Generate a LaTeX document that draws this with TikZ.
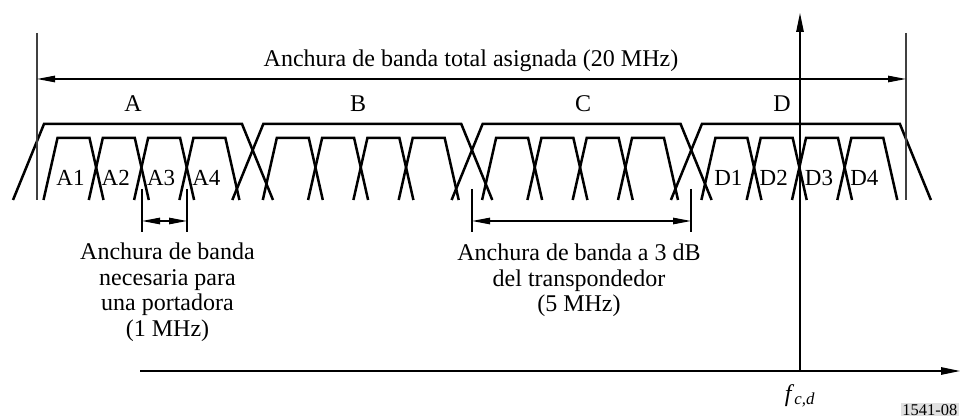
\documentclass[tikz,border=0pt]{standalone}
\usepackage{fontspec}
\setmainfont{Liberation Serif}
\usetikzlibrary{arrows.meta}
\begin{document}
\begin{tikzpicture}[x=1pt,y=-1pt,
  band/.style={line width=2.5pt, line join=miter},
  thinln/.style={line width=1.2pt},
  bound/.style={line width=1.2pt, draw=black!75},
  dimarrow/.style={line width=1.2pt, {Triangle[length=18pt,width=6.5pt]}-{Triangle[length=18pt,width=6.5pt]}},
  axisarrow/.style={line width=1.2pt, -{Triangle[length=19pt,width=7.5pt]}},
  lbl/.style={font=\fontsize{24}{25.7}\selectfont, inner sep=0pt},
  clbl/.style={font=\fontsize{23}{24}\selectfont, inner sep=0pt, anchor=base},
  tag/.style={font=\fontsize{16.5}{16.5}\selectfont, fill=black!12, inner sep=1.2pt, anchor=base west}]
\useasboundingbox (0,0) rectangle (961,419);

% transponder and carrier trapezoids
\foreach \k/\nm/\lx in {0/A/133,1/B/358,2/C/583,3/D/782} {
  \pgfmathsetmacro\t{44+219.3*\k}
  \draw[band] (\t-31,200) -- (\t,124) -- (\t+198,124) -- (\t+229,200);
  \node[lbl, anchor=base] (tp\nm) at (\lx,112) {\nm};
  \foreach \j in {0,...,3} {
    \pgfmathsetmacro\c{\t+13.5+45.3*\j}
    \draw[band] (\c-14,200) -- (\c,138) -- (\c+32,138) -- (\c+46,200);
  }
}

% carrier labels
\foreach \j in {1,...,4} {
  \pgfmathsetmacro\ca{44+13.5+45.3*(\j-1)+13}
  \pgfmathsetmacro\cd{44+219.3*3+13.5+45.3*(\j-1)+13}
  \node[clbl] (A\j) at (\ca,186) {A\j};
  \node[clbl] (D\j) at (\cd,186) {D\j};
}

% total bandwidth
\coordinate (bl) at (37,33);
\coordinate (blb) at (37,200);
\coordinate (br) at (906,33);
\coordinate (brb) at (906,200);
\draw[bound] (bl) -- (blb);
\draw[bound] (br) -- (brb);
\coordinate (tl) at (37,79);
\coordinate (tr) at (906,79);
\draw[dimarrow] (tl) -- (tr);
\node[lbl, anchor=base] (title) at (471,67) {Anchura de banda total asignada (20 MHz)};

% axes
\coordinate (xs) at (140,371);
\coordinate (xe) at (960,371);
\coordinate (org) at (800,371);
\coordinate (ye) at (800,13);
\draw[axisarrow] (xs) -- (xe);
\draw[axisarrow] (org) -- (ye);
\node[lbl, anchor=base] (fcd) at (800,401) {\textit{f}\textsubscript{\textit{c,d}}};

% carrier bandwidth
\coordinate (c1t) at (142,189); \coordinate (c1b) at (142,232);
\coordinate (c2t) at (187,189); \coordinate (c2b) at (187,232);
\draw[thinln] (c1t) -- (c1b);
\draw[thinln] (c2t) -- (c2b);
\coordinate (c1m) at (142,221); \coordinate (c2m) at (187,221);
\draw[dimarrow] (c1m) -- (c2m);
\node[lbl, align=center, anchor=north] (cbw) at (167.5,242.5)
  {Anchura de banda\\necesaria para\\una portadora\\(1 MHz)};

% transponder 3 dB bandwidth
\coordinate (t1t) at (472,189); \coordinate (t1b) at (472,232);
\coordinate (t2t) at (691,189); \coordinate (t2b) at (691,232);
\draw[thinln] (t1t) -- (t1b);
\draw[thinln] (t2t) -- (t2b);
\coordinate (t1m) at (472,221); \coordinate (t2m) at (691,221);
\draw[dimarrow] (t1m) -- (t2m);
\node[lbl, align=center, anchor=north] (tbw) at (579,243.5)
  {Anchura de banda a 3 dB\\del transpondedor\\(5 MHz)};

\node[tag] (fig) at (901,415) {1541-08};
\end{tikzpicture}
\end{document}
